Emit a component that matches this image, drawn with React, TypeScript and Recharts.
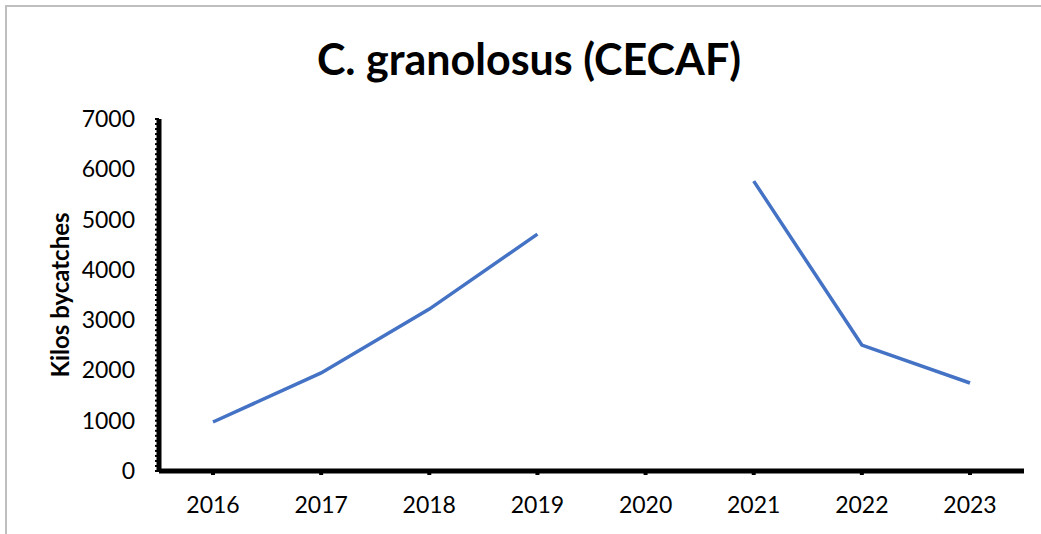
import React from "react";
import { LineChart, Line, XAxis, YAxis } from "recharts";

const years = ["2016", "2017", "2018", "2019", "2020", "2021", "2022", "2023"];
const kilos: (number | null)[] = [975, 1950, 3220, 4710, null, 5765, 2505, 1750];
const yMajorTicks = [0, 1000, 2000, 3000, 4000, 5000, 6000, 7000];
const yMinorStep = 100;

const data = years.map((y, i) => ({ year: y, kilos: kilos[i] }));
const yTicks: number[] = [];
for (let v = 0; v <= 7000; v += yMinorStep) yTicks.push(v);

const FONT = "Lato, 'Open Sans', sans-serif";

const YTick = (props: any) => {
  const { x, y, payload } = props;
  if (!yMajorTicks.includes(payload.value)) return <g />;
  return (
    <text x={x} y={y} dy={8} textAnchor="end" fontFamily={FONT} fontSize={23} fill="#000">
      {payload.value}
    </text>
  );
};

export default function App() {
  return (
    <div style={{ position: "absolute", left: 0, top: 0, width: 1041, height: 534, background: "#fff", overflow: "hidden" }}>
      <div style={{ position: "absolute", left: 5, top: 5, width: 1100, height: 600, borderLeft: "2px solid #bfbfbf", borderTop: "2px solid #bfbfbf" }} />
      <div style={{ position: "absolute", left: 0, width: 1058, top: 31, textAlign: "center", fontFamily: FONT, fontWeight: 700, fontSize: 43, color: "#000", lineHeight: "56px" }}>
        C. granolosus (CECAF)
      </div>
      <div style={{ position: "absolute", left: 59, top: 295, width: 0, height: 0 }}>
        <div style={{ position: "absolute", transform: "translate(-50%, -50%) rotate(-90deg)", whiteSpace: "nowrap", fontFamily: FONT, fontWeight: 700, fontSize: 24, color: "#000" }}>
          Kilos bycatches
        </div>
      </div>
      <div style={{ position: "absolute", left: 0, top: 0 }}>
        <LineChart width={1041} height={534} data={data} margin={{ top: 119, right: 17, left: 0, bottom: 0 }}>
          <XAxis
            dataKey="year"
            height={63}
            padding={{ left: 54, right: 54 }}
            axisLine={{ stroke: "#000", strokeWidth: 5 }}
            tickLine={{ stroke: "#000", strokeWidth: 4 }}
            tickSize={4}
            tickMargin={22}
            interval={0}
            tick={{ fontFamily: FONT, fontSize: 23, fill: "#000" }}
          />
          <YAxis
            width={159}
            domain={[0, 7000]}
            ticks={yTicks}
            interval={0}
            axisLine={{ stroke: "#000", strokeWidth: 5 }}
            tickLine={{ stroke: "#000", strokeWidth: 2 }}
            tickSize={4}
            tickMargin={20}
            tick={<YTick />}
          />
          <Line
            type="linear"
            dataKey="kilos"
            stroke="#4472C4"
            strokeWidth={3.5}
            dot={false}
            connectNulls={false}
            isAnimationActive={false}
          />
        </LineChart>
      </div>
    </div>
  );
}
